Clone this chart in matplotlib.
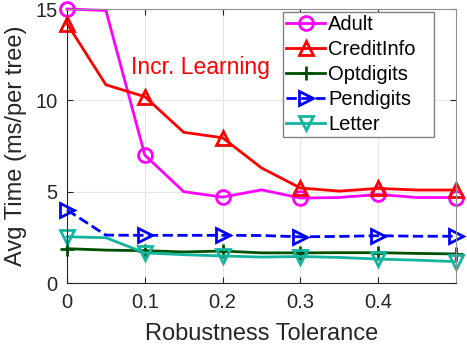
import matplotlib
matplotlib.use("Agg")
import matplotlib.pyplot as plt
import numpy as np

plt.rcParams["font.family"] = ["Liberation Sans", "DejaVu Sans"]

# robustness tolerance values (every 0.05)
tol = [0, 0.05, 0.1, 0.15, 0.2, 0.25, 0.3, 0.35, 0.4, 0.45, 0.5]

adult = [15.0, 14.92, 7.0, 5.0, 4.7, 5.1, 4.65, 4.68, 4.85, 4.68, 4.68]
credit = [14.2, 10.85, 10.2, 8.25, 7.95, 6.3, 5.2, 5.03, 5.18, 5.09, 5.09]
optdigits = [1.88, 1.8, 1.77, 1.7, 1.75, 1.65, 1.65, 1.66, 1.66, 1.62, 1.59]
pendigits = [4.0, 2.62, 2.61, 2.61, 2.61, 2.6, 2.53, 2.55, 2.59, 2.56, 2.56]
letter = [2.53, 2.48, 1.65, 1.55, 1.48, 1.42, 1.45, 1.4, 1.31, 1.25, 1.17]

fig = plt.figure(figsize=(4.67, 3.45), dpi=100)
ax = fig.add_axes([0.1435, 0.1797, 0.8329, 0.7942])

mkw = dict(lw=2, markersize=10, markerfacecolor="none", markeredgewidth=2,
           markevery=2, clip_on=False)
ax.plot(tol, adult, "-o", color="#ff00ff", label="Adult", **mkw)
ax.plot(tol, credit, "-^", color="#ff0000", label="CreditInfo", **mkw)
ax.plot(tol, optdigits, "-+", color="#005000", label="Optdigits", **mkw)
ax.plot(tol, pendigits, "-->", color="#0000ff", label="Pendigits", **mkw)
ax.plot(tol, letter, "-v", color="#14b4a0", label="Letter", **mkw)

ax.text(0.171, 11.8, "Incr. Learning", color="#ff0000", fontsize=16.5,
        ha="center", va="center")

ax.set_xlim(0, 0.5)
ax.set_ylim(0, 15)
ax.set_xticks([0, 0.1, 0.2, 0.3, 0.4])
ax.set_xticklabels(["0", "0.1", "0.2", "0.3", "0.4"])
ax.set_yticks([0, 5, 10, 15])
ax.tick_params(labelsize=14.5, labelcolor="#262626", color="#262626",
               direction="in", length=4, top=True, right=True, pad=7)
ax.grid(True, color="#e6e6e6", lw=0.8)
ax.set_axisbelow(True)
ax.spines["left"].set_color("#262626")
ax.spines["bottom"].set_color("#262626")
ax.spines["top"].set_color("#909090")
ax.spines["right"].set_color("#909090")
ax.set_xlabel("Robustness Tolerance", fontsize=17, color="#262626",
              labelpad=8)
ax.set_ylabel("Avg Time (ms/per tree)", fontsize=17, color="#262626",
              labelpad=6)

leg = ax.legend(loc="upper left", bbox_to_anchor=(0.555, 0, 0.389, 0.989),
                mode="expand", fontsize=14.5, handlelength=1.95,
                handletextpad=0.15, borderpad=0.15, borderaxespad=0,
                labelspacing=0.3, fancybox=False, framealpha=1,
                edgecolor="#808080")
leg.get_frame().set_linewidth(1)

fig.savefig("out.png", dpi=100)
